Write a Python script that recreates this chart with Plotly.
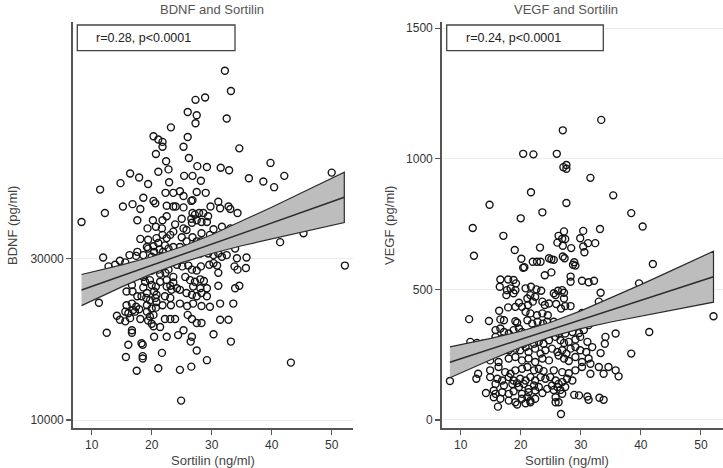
import plotly.graph_objects as go

W, H = 723, 468

# ---------------- data: BDNF vs Sortilin ----------------
bdnf_sortilin = [
    32.2, 33.2, 27.3, 28.9, 26.0, 27.5, 27.3, 32.5, 23.2, 20.3,
    21.1, 21.8, 21.8, 20.7, 26.0, 25.3, 34.6, 26.2, 22.4, 22.8,
    27.6, 29.2, 31.5, 32.9, 39.8, 21.1, 16.4, 17.9, 25.4, 26.8,
    14.8, 19.4, 22.9, 24.7, 28.2, 36.2, 38.6, 40.4, 42.1, 50.0,
    11.4, 22.3, 23.6, 25.3, 26.8, 27.5, 29.0, 18.6, 20.3, 20.6,
    15.2, 16.8, 18.1, 12.2, 22.5, 23.6, 24.0, 25.3, 26.6, 29.8,
    31.1, 31.4, 32.8, 33.1, 34.3, 26.8, 27.2, 27.9, 28.6, 29.4,
    26.6, 27.5, 28.3, 29.2, 26.7, 8.3, 22.5, 21.8, 20.2, 17.6,
    23.9, 25.3, 23.6, 19.3, 20.7, 21.7, 30.3, 31.7, 33.1, 31.7,
    45.3, 41.4, 18.1, 19.4, 20.8, 21.8, 22.5, 23.1, 25.0, 26.8,
    28.2, 29.2, 30.8, 19.2, 20.3, 21.3, 21.9, 22.8, 23.6, 24.7,
    17.6, 16.3, 17.4, 18.6, 11.9, 14.7, 13.9, 12.8, 15.6, 20.0,
    20.8, 21.7, 22.5, 23.6, 24.7, 25.6, 26.9, 28.1, 28.7, 29.4,
    30.3, 31.1, 31.7, 32.5, 33.9, 34.2, 35.8, 35.7, 34.3, 33.8,
    52.2, 24.2, 25.1, 26.1, 26.7, 27.5, 28.2, 29.6, 30.3, 30.9,
    31.1, 19.2, 20.0, 21.1, 21.4, 22.3, 22.8, 23.6, 17.4, 18.6,
    18.9, 19.7, 20.0, 20.7, 21.4, 22.5, 23.1, 23.6, 25.6, 26.4,
    27.2, 28.1, 28.7, 26.9, 28.1, 29.2, 16.7, 18.6, 19.2, 20.4,
    20.8, 22.5, 23.3, 24.2, 24.7, 31.1, 33.9, 34.6, 15.8, 16.8,
    17.6, 18.3, 19.1, 19.7, 20.6, 20.8, 22.2, 23.1, 25.8, 26.7,
    27.5, 28.3, 29.2, 11.2, 15.8, 16.7, 17.4, 17.9, 19.2, 20.0,
    20.7, 15.6, 16.1, 17.2, 16.9, 19.2, 19.7, 20.3, 21.8, 23.2,
    24.7, 25.9, 26.9, 28.3, 29.7, 31.4, 33.6, 14.2, 14.7, 15.6,
    16.4, 18.1, 19.4, 20.0, 20.3, 21.4, 22.2, 23.1, 23.9, 26.0,
    26.7, 27.5, 28.3, 31.4, 32.8, 12.5, 16.7, 16.7, 20.4, 22.5,
    24.4, 25.3, 26.7, 26.5, 30.3, 16.1, 18.3, 18.5, 33.2, 15.7,
    18.5, 18.5, 21.7, 27.5, 29.2, 17.5, 21.1, 24.7, 26.6, 43.2, 24.9,
    19.4, 20.4, 21.1, 22.2, 25.8, 27.5, 28.3, 29.7, 25.0, 25.8,
]
bdnf_value = [
    53200, 50700, 49600, 49900, 48100, 47700, 46700, 47300, 46200, 45100,
    44700, 44400, 43800, 42900, 45000, 43800, 43600, 42400, 42000, 41000,
    41400, 41300, 41200, 40900, 41800, 40700, 40500, 40000, 40200, 40200,
    39300, 39200, 39400, 38300, 39600, 39900, 39500, 38800, 40200, 40600,
    38500, 38100, 38100, 37700, 37200, 38200, 38100, 37500, 37100, 36800,
    36400, 36700, 36100, 35600, 36500, 36400, 36400, 36300, 37100, 36400,
    37000, 36200, 36400, 36100, 35600, 35600, 35400, 35600, 35600, 35200,
    34900, 34700, 34500, 34500, 34400, 34500, 35200, 34700, 34700, 34700,
    34200, 33700, 33300, 33700, 33900, 33700, 33600, 33900, 33700, 32900,
    33100, 32000, 32400, 32300, 32500, 32900, 32500, 32900, 32600, 32600,
    32100, 31900, 31400, 31400, 31500, 31100, 30800, 31200, 31400, 31400,
    30800, 30400, 30300, 30400, 30100, 29700, 29200, 29000, 29500, 30200,
    30000, 30200, 29800, 29600, 29800, 30200, 31000, 30600, 30900, 30600,
    30400, 30600, 30200, 30400, 31200, 30000, 30100, 28800, 28600, 29000,
    29100, 29200, 29000, 29100, 28600, 28500, 29000, 29200, 29400, 29100,
    28200, 29000, 28500, 28600, 28100, 28200, 28600, 27700, 28100, 27700,
    27100, 27300, 26700, 26500, 27100, 27300, 26600, 27000, 27700, 27300,
    27100, 27400, 27200, 26500, 26300, 26300, 26700, 26400, 25700, 25900,
    25500, 26500, 26100, 26300, 26100, 26600, 26300, 26600, 25900, 25900,
    25300, 25300, 25100, 24800, 25100, 24600, 25300, 25100, 25700, 25500,
    25300, 25700, 25300, 24500, 24200, 24400, 24000, 23700, 24200, 23800,
    23900, 23400, 23200, 23400, 23600, 23400, 22800, 23000, 24200, 24200,
    24400, 24100, 24400, 24100, 24000, 24400, 24400, 22900, 22400, 22200,
    22600, 22500, 22300, 21900, 21600, 21500, 22500, 22500, 22500, 23000,
    22500, 22000, 22000, 22400, 22400, 20800, 21100, 20800, 20300, 20300,
    20500, 21100, 20300, 19700, 20600, 19300, 19500, 19300, 19700, 17800,
    17900, 17600, 18300, 18600, 17400, 16100, 16400, 16200, 16600, 17100, 12400,
    31200, 30800, 31900, 31600, 32100, 32100, 33100, 32900, 34900, 33500,
]

# linear fit with 95% CI
bdnf_band_x = [8.3, 15, 20, 25, 30, 35, 40, 45, 52.1]
bdnf_fit = [26072, 27827, 29137, 30447, 31757, 33067, 34377, 35687, 37547]
bdnf_upper = [27992, 29186, 30198, 31426, 32918, 34581, 36324, 38105, 40664]
bdnf_lower = [24152, 26468, 28076, 29468, 30596, 31553, 32430, 33269, 34430]

# ---------------- data: VEGF vs Sortilin ----------------
vegf_sortilin = [
    33.4, 27.0, 20.4, 22.1, 26.0, 27.6, 27.6, 27.1, 31.6, 21.7,
    27.6, 35.4, 14.8, 23.6, 38.4, 20.0, 40.3, 12.0, 33.2, 17.1,
    26.3, 27.2, 26.9, 27.4, 30.4, 29.9, 31.2, 32.4, 30.4, 30.6,
    26.1, 27.0, 28.4, 27.0, 27.3, 23.2, 19.0, 12.2, 20.1, 20.6,
    20.4, 22.0, 22.7, 23.3, 24.7, 25.1, 25.5, 28.9, 29.1, 28.7,
    42.0, 24.0, 25.1, 28.3, 28.3, 30.2, 31.3, 32.2, 16.6, 17.9,
    18.8, 19.2, 16.5, 17.7, 18.3, 19.1, 17.6, 18.8, 39.7, 20.8,
    21.7, 22.6, 23.4, 21.6, 21.1, 22.4, 25.5, 25.8, 26.2, 26.9,
    27.2, 33.3, 19.7, 20.2, 21.2, 22.0, 23.6, 24.0, 24.7, 25.9,
    26.7, 27.4, 28.3, 27.2, 33.0, 16.4, 17.9, 19.1, 20.8, 21.6,
    22.7, 23.6, 24.5, 30.2, 30.7, 34.4, 52.1, 11.4, 14.7, 16.6,
    17.2, 19.1, 19.4, 21.1, 21.9, 22.8, 23.7, 24.4, 25.5, 26.3,
    27.2, 28.0, 41.4, 15.8, 16.6, 17.2, 18.0, 18.8, 19.7, 20.2,
    21.3, 22.2, 23.0, 23.8, 24.7, 25.5, 26.3, 27.4, 28.6, 29.7,
    30.5, 31.3, 11.6, 12.7, 13.7, 15.8, 16.9, 18.0, 18.8, 19.7,
    20.5, 21.3, 22.2, 23.0, 23.8, 24.7, 25.8, 26.6, 27.2, 28.0,
    29.1, 29.9, 31.1, 34.1, 34.0, 35.8, 14.7, 15.5, 16.3, 17.2,
    18.0, 19.1, 19.9, 20.8, 21.3, 22.4, 23.3, 24.1, 25.2, 26.1,
    26.9, 27.6, 28.3, 29.1, 29.9, 30.9, 31.9, 33.3, 38.4, 14.9,
    16.3, 18.0, 19.1, 20.2, 21.3, 22.4, 23.6, 24.7, 26.3, 27.2,
    28.0, 29.1, 30.2, 31.3, 14.9, 16.3, 17.4, 18.3, 19.1, 20.2,
    21.1, 22.2, 23.0, 23.8, 25.5, 26.9, 28.0, 29.1, 30.2, 31.6,
    33.0, 34.6, 35.8, 36.3, 33.8, 31.6, 8.2, 12.6, 12.9, 14.9,
    16.1, 16.9, 18.0, 18.8, 19.4, 19.9, 20.8, 21.6, 22.4, 23.3,
    24.1, 24.9, 25.8, 26.9, 27.7, 28.6, 15.8, 17.2, 18.6, 19.7,
    20.5, 21.3, 22.2, 23.0, 25.2, 26.3, 27.4, 14.2, 15.5, 15.8,
    16.9, 18.0, 18.8, 20.2, 21.3, 22.4, 23.6, 24.4, 25.5, 26.1,
    28.9, 29.7, 31.1, 31.3, 33.1, 33.8, 15.5, 16.6, 18.0, 19.1,
    20.2, 21.1, 21.6, 22.4, 16.2, 19.4, 20.8, 21.6, 25.8, 26.3,
    26.9, 25.8, 26.6, 26.7,
]
vegf_value = [
    1149, 1109, 1019, 1017, 1019, 976, 962, 968, 927, 872,
    831, 860, 824, 795, 792, 772, 741, 735, 731, 705,
    705, 722, 694, 693, 724, 696, 677, 677, 664, 642,
    679, 667, 658, 626, 619, 660, 651, 629, 617, 585,
    583, 606, 606, 606, 619, 615, 613, 604, 591, 594,
    597, 554, 565, 549, 529, 533, 527, 533, 538, 538,
    536, 523, 510, 497, 504, 497, 478, 485, 523, 504,
    510, 500, 495, 478, 465, 472, 485, 478, 495, 497,
    487, 487, 449, 433, 440, 453, 453, 440, 446, 444,
    427, 436, 436, 465, 453, 418, 431, 433, 414, 408,
    401, 408, 401, 410, 401, 408, 397, 386, 379, 385,
    382, 378, 372, 382, 369, 376, 369, 376, 376, 363,
    376, 369, 337, 344, 350, 337, 331, 344, 350, 337,
    333, 344, 331, 324, 331, 344, 331, 331, 337, 333,
    344, 363, 299, 295, 292, 318, 312, 305, 299, 308,
    292, 303, 292, 299, 292, 305, 318, 305, 295, 299,
    308, 318, 299, 318, 292, 331, 273, 267, 273, 279,
    267, 273, 267, 279, 260, 273, 254, 267, 273, 260,
    267, 254, 273, 279, 267, 260, 279, 256, 254, 228,
    222, 235, 241, 228, 235, 222, 235, 228, 247, 235,
    226, 241, 222, 235, 190, 203, 183, 177, 190, 196,
    203, 190, 196, 187, 190, 183, 179, 190, 203, 215,
    203, 203, 190, 167, 177, 177, 149, 158, 177, 164,
    158, 151, 164, 151, 141, 158, 151, 164, 151, 164,
    158, 164, 151, 145, 158, 151, 138, 132, 138, 126,
    138, 119, 132, 126, 132, 138, 126, 103, 113, 100,
    106, 100, 110, 100, 106, 113, 103, 119, 115, 126,
    96, 94, 90, 77, 85, 77, 87, 81, 74, 68,
    81, 87, 74, 81, 51, 59, 64, 68, 68, 68,
    100, 87, 115, 23,
]

vegf_band_x = [8.2, 15, 20, 25, 30, 35, 40, 45, 52.1]
vegf_fit = [220.7, 271.5, 308.9, 346.2, 383.5, 420.9, 458.2, 495.6, 548.6]
vegf_upper = [280.1, 312.3, 339.6, 374.1, 417.6, 466.8, 518.2, 570.8, 646.1]
vegf_lower = [161.3, 230.7, 278.2, 318.3, 349.4, 375.0, 398.2, 420.4, 451.1]

x_ticks = [10, 20, 30, 40, 50]
bdnf_ticks = [10000, 30000]
vegf_ticks = [0, 500, 1000, 1500]

titles = ["BDNF and Sortilin", "VEGF and Sortilin"]
y_titles = ["BDNF (pg/ml)", "VEGF (pg/ml)"]
x_title = "Sortilin (ng/ml)"
stats_text = ["r=0.28, p<0.0001", "r=0.24, p<0.0001"]

# ---------------- figure ----------------
FONT = "Liberation Sans, Arial, sans-serif"


def px_x(p):
    return p / W


def px_y(p):
    return 1 - p / H


fig = go.Figure()

marker = dict(symbol="circle-open", size=7, color="#151515", line=dict(width=1.4, color="#151515"))

panels = [
    (bdnf_sortilin, bdnf_value, bdnf_band_x, bdnf_fit, bdnf_upper, bdnf_lower, "x", "y"),
    (vegf_sortilin, vegf_value, vegf_band_x, vegf_fit, vegf_upper, vegf_lower, "x2", "y2"),
]
for sx, sy, bx, bf, bu, bl, xa, ya in panels:
    fig.add_trace(go.Scatter(x=sx, y=sy, mode="markers", marker=marker,
                             xaxis=xa, yaxis=ya, showlegend=False, hoverinfo="skip"))
    fig.add_trace(go.Scatter(x=bx + bx[::-1], y=bu + bl[::-1], mode="lines",
                             fill="toself", fillcolor="#bdbdbd",
                             line=dict(color="#2b2b2b", width=1.2),
                             xaxis=xa, yaxis=ya, showlegend=False, hoverinfo="skip"))
    fig.add_trace(go.Scatter(x=bx, y=bf, mode="lines",
                             line=dict(color="#2b2b2b", width=1.5),
                             xaxis=xa, yaxis=ya, showlegend=False, hoverinfo="skip"))

ydom = [px_y(428.3), px_y(21.7)]
common_axis = dict(showline=True, linecolor="#555555", linewidth=1.5, ticks="outside",
                   ticklen=5, tickwidth=1.2, tickcolor="#555555",
                   tickfont=dict(family=FONT, size=12, color="#333333"),
                   zeroline=False, mirror=False, fixedrange=True, automargin=False,
                   tickformat="d")

fig.update_layout(
    width=W, height=H,
    autosize=False,
    margin=dict(l=0, r=0, t=0, b=0, autoexpand=False),
    paper_bgcolor="white", plot_bgcolor="white",
    showlegend=False,
    xaxis=dict(domain=[px_x(72.7), px_x(353.3)], range=[6.83, 53.6], tickvals=x_ticks,
               showgrid=False, anchor="y", **common_axis),
    yaxis=dict(domain=ydom, range=[8973, 59268], tickvals=bdnf_ticks,
               showgrid=True, gridcolor="#ececec", gridwidth=1, anchor="x", **common_axis),
    xaxis2=dict(domain=[px_x(441.7), px_x(722.5)], range=[6.83, 53.6], tickvals=x_ticks,
                showgrid=False, anchor="y2", **common_axis),
    yaxis2=dict(domain=ydom, range=[-32, 1525], tickvals=vegf_ticks,
                showgrid=True, gridcolor="#ececec", gridwidth=1, anchor="x2", **common_axis),
)

annotations = []
shapes = []
title_cx = [212, 566]
ytitle_cx = [12, 389]
box_x = [(77.3, 235.0), (446.7, 603.3)]
for i in range(2):
    annotations.append(dict(text=titles[i], x=px_x(title_cx[i]), y=px_y(9), xref="paper", yref="paper",
                            showarrow=False, xanchor="center", yanchor="middle",
                            font=dict(family=FONT, size=13, color="#555555")))
    annotations.append(dict(text=x_title, x=px_x(title_cx[i] + 1), y=px_y(460), xref="paper", yref="paper",
                            showarrow=False, xanchor="center", yanchor="middle",
                            font=dict(family=FONT, size=13, color="#444444")))
    annotations.append(dict(text=y_titles[i], x=px_x(ytitle_cx[i]), y=px_y(226), xref="paper", yref="paper",
                            showarrow=False, xanchor="center", yanchor="middle", textangle=-90,
                            font=dict(family=FONT, size=13, color="#444444")))
    x0, x1 = box_x[i]
    shapes.append(dict(type="rect", xref="paper", yref="paper",
                       x0=px_x(x0), x1=px_x(x1), y0=px_y(50.7), y1=px_y(25),
                       line=dict(color="#444444", width=1.3), fillcolor="white"))
    annotations.append(dict(text=stats_text[i], x=px_x(x0 + 17), y=px_y(37.5), xref="paper", yref="paper",
                            showarrow=False, xanchor="left", yanchor="middle",
                            font=dict(family=FONT, size=12.5, color="#222222")))

fig.update_layout(annotations=annotations, shapes=shapes)

fig.write_html("out.html",
               config={"displayModeBar": False, "staticPlot": True},
               post_script="document.body.style.margin='0';document.body.style.overflow='hidden';")
